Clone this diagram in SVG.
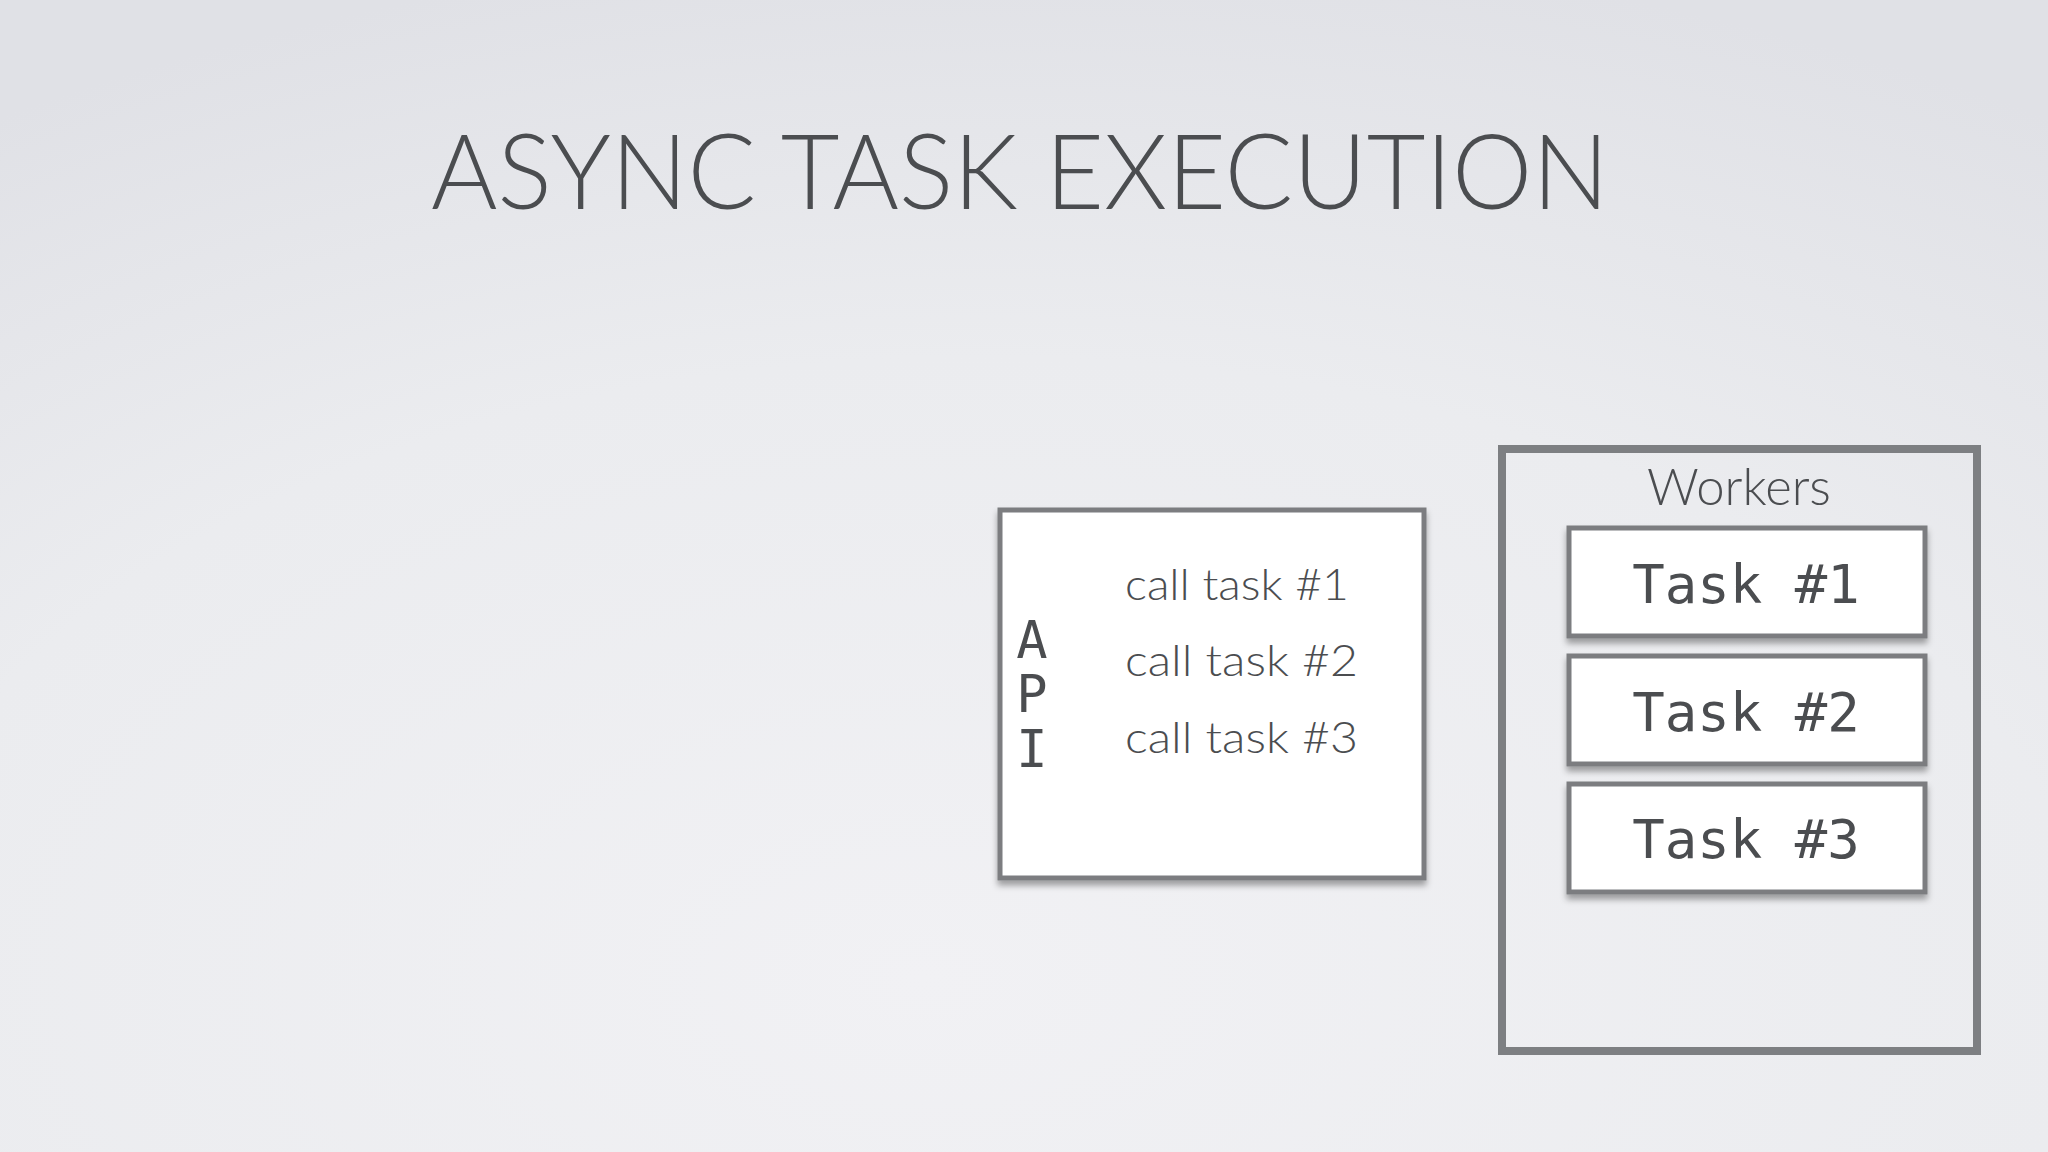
<svg xmlns="http://www.w3.org/2000/svg" width="2048" height="1152" viewBox="0 0 2048 1152">
  <defs>
    <radialGradient id="bg" cx="0.5" cy="0.85" r="0.9" fx="0.45" fy="0.85">
      <stop offset="0" stop-color="#f1f1f4"/>
      <stop offset="0.6" stop-color="#ebecef"/>
      <stop offset="1" stop-color="#e0e1e6"/>
    </radialGradient>
    <filter id="shadow" x="-5%" y="-5%" width="110%" height="120%">
      <feDropShadow dx="0" dy="5" stdDeviation="3" flood-color="#000" flood-opacity="0.35"/>
    </filter>
  </defs>
  <style>
    .box { fill: #ffffff; stroke: #7b7d80; stroke-width: 5; filter: url(#shadow); }
    .frame { fill: none; stroke: #7d7f82; stroke-width: 8; }
    .sans { font-family: Lato, "Open Sans", "Liberation Sans", sans-serif; font-weight: 300; fill: #4b4d50; }
    .mono { font-family: "DejaVu Sans Mono", "Liberation Mono", monospace; fill: #4b4d50; }
  </style>
  <rect width="2048" height="1152" fill="url(#bg)"/>

  <g id="title">
    <text class="sans" x="431" y="209" font-size="104" textLength="1178" lengthAdjust="spacingAndGlyphs">ASYNC TASK EXECUTION</text>
  </g>

  <g id="api">
    <rect class="box" x="1000" y="510" width="424" height="368"/>
    <text class="mono" font-size="52" text-anchor="middle"><tspan x="1032" y="658">A</tspan><tspan x="1032" y="712">P</tspan><tspan x="1032" y="767">I</tspan></text>
    <text class="sans" x="1125" y="600" font-size="44" textLength="224" lengthAdjust="spacingAndGlyphs">call task #1</text>
    <text class="sans" x="1125" y="676" font-size="44" textLength="233" lengthAdjust="spacingAndGlyphs">call task #2</text>
    <text class="sans" x="1125" y="753" font-size="44" textLength="233" lengthAdjust="spacingAndGlyphs">call task #3</text>
  </g>

  <g id="workers">
    <rect class="frame" x="1502" y="449" width="475" height="602"/>
    <text class="sans" x="1739" y="505" font-size="52" text-anchor="middle" textLength="184" lengthAdjust="spacingAndGlyphs">Workers</text>
  </g>

  <g id="task1">
    <rect class="box" x="1569" y="528" width="356" height="108"/>
    <text class="mono" x="1746" y="603" font-size="54" text-anchor="middle">Task #1</text>
  </g>
  <g id="task2">
    <rect class="box" x="1569" y="656" width="356" height="108"/>
    <text class="mono" x="1746" y="731" font-size="54" text-anchor="middle">Task #2</text>
  </g>
  <g id="task3">
    <rect class="box" x="1569" y="784" width="356" height="108"/>
    <text class="mono" x="1746" y="858" font-size="54" text-anchor="middle">Task #3</text>
  </g>

  <g id="connectors"/>
</svg>
